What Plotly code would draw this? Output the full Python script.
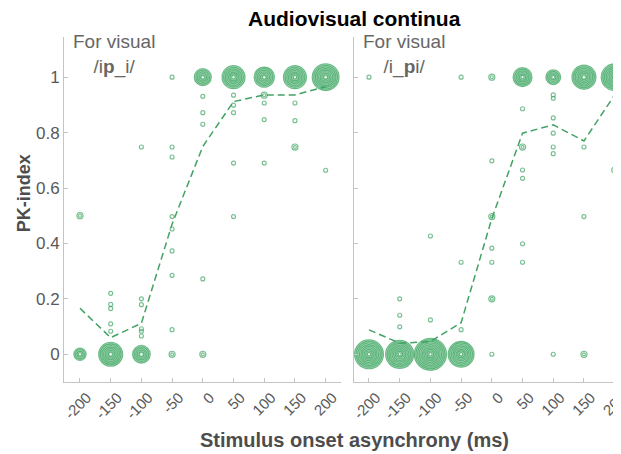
import plotly.graph_objects as go
import numpy as np

# ---------------- data ----------------
soa_ticks = [-200, -150, -100, -50, 0, 50, 100, 150, 200]
tick_labels = ["-200", "-150", "-100", "-50", "0", "50", "100", "150", "200"]

# Left panel: "For visual /ip_i/"  (x = SOA ms, y = PK-index, n = count)
left_x = [-200, -200,
          -150, -150, -150, -150, -150, -150,
          -100, -100, -100, -100, -100, -100, -100,
          -50, -50, -50, -50, -50, -50, -50, -50, -50,
          0, 0, 0, 0, 0, 0,
          50, 50, 50, 50, 50, 50,
          100, 100, 100, 100, 100,
          150, 150, 150, 150,
          200, 200]
left_y = [0.50, 0.0,
          0.22, 0.18, 0.165, 0.11, 0.083, 0.0,
          0.748, 0.20, 0.179, 0.092, 0.083, 0.066, 0.0,
          1.0, 0.748, 0.712, 0.497, 0.452, 0.373, 0.285, 0.089, 0.0,
          1.0, 0.931, 0.872, 0.830, 0.272, 0.0,
          1.0, 0.935, 0.899, 0.872, 0.690, 0.497,
          1.0, 0.935, 0.907, 0.847, 0.690,
          1.0, 0.907, 0.843, 0.748,
          1.0, 0.664]
left_n = [2, 7,
          1, 1, 1, 1, 1, 25,
          1, 1, 1, 1, 1, 1, 14,
          1, 1, 1, 1, 1, 1, 1, 1, 2,
          13, 1, 1, 1, 1, 2,
          23, 1, 1, 1, 1, 1,
          18, 2, 1, 1, 1,
          23, 1, 1, 2,
          31, 1]
left_mean = [0.166, 0.06, 0.112, 0.47, 0.75, 0.912, 0.936, 0.936, 0.966]

# Right panel: "For visual /i_pi/"
right_x = [-200, -200,
           -150, -150, -150, -150,
           -100, -100, -100,
           -50, -50, -50, -50,
           0, 0, 0, 0, 0, 0, 0,
           50, 50, 50, 50, 50, 50, 50,
           100, 100, 100, 100, 100, 100, 100, 100,
           150, 150, 150, 150,
           200, 200]
right_y = [1.0, 0.0,
           0.20, 0.141, 0.099, 0.0,
           0.427, 0.124, 0.0,
           1.0, 0.332, 0.089, 0.0,
           1.0, 0.698, 0.497, 0.383, 0.332, 0.20, 0.0,
           1.0, 0.886, 0.748, 0.665, 0.635, 0.399, 0.332,
           1.0, 0.936, 0.924, 0.853, 0.798, 0.748, 0.724, 0.0,
           1.0, 0.748, 0.497, 0.0,
           1.0, 0.665]
right_n = [1, 36,
           1, 1, 1, 34,
           1, 1, 44,
           1, 1, 1, 29,
           2, 1, 2, 1, 1, 2, 1,
           16, 1, 2, 1, 1, 1, 1,
           10, 1, 1, 1, 1, 1, 1, 1,
           25, 1, 1, 2,
           31, 2]
right_mean = [0.088, 0.04, 0.046, 0.114, 0.49, 0.798, 0.828, 0.77, 0.936]

# ---------------- style ----------------
RING = "rgb(62,164,98)"
FILL = "rgb(128,202,152)"
LINE = "rgb(66,162,100)"
AXIS = "#c4c4c4"
TXT = "#595959"
FONT = "Liberation Sans, Arial, Helvetica, sans-serif"

fig = go.Figure()


def add_panel(xs, ys, ns, mean, xa, ya):
    xs = np.array(xs, float)
    ys = np.array(ys, float)
    d = 5.0 * np.sqrt(np.array(ns, float))  # outer diameter in px
    big = d >= 9
    fig.add_trace(go.Scatter(x=xs[big], y=ys[big], mode="markers", xaxis=xa, yaxis=ya,
                             marker=dict(size=d[big] - 1, color=FILL, line=dict(width=0)),
                             cliponaxis=False, hoverinfo="skip", showlegend=False))
    k = 0
    while True:
        dk = d - 3.2 * k
        m = dk >= 3
        if not m.any():
            break
        fig.add_trace(go.Scatter(x=xs[m], y=ys[m], mode="markers", xaxis=xa, yaxis=ya,
                                 marker=dict(symbol="circle-open", size=dk[m] - 1,
                                             color=RING, line=dict(width=1.15, color=RING)),
                                 cliponaxis=False, hoverinfo="skip", showlegend=False))
        k += 1
    fig.add_trace(go.Scatter(x=xs[big], y=ys[big], mode="markers", xaxis=xa, yaxis=ya,
                             marker=dict(size=2, color="white", line=dict(width=0)),
                             cliponaxis=False, hoverinfo="skip", showlegend=False))
    fig.add_trace(go.Scatter(x=soa_ticks, y=mean, mode="lines", xaxis=xa, yaxis=ya,
                             line=dict(color=LINE, width=1.5, dash="7px,4px"),
                             hoverinfo="skip", showlegend=False))


add_panel(left_x, left_y, left_n, left_mean, "x", "y")
add_panel(right_x, right_y, right_n, right_mean, "x2", "y2")

# page body adds an 8px margin; work in window pixels and convert
OFF = 8
W, H = 621 - OFF, 454 - OFF
L = 64 - OFF
T = 37 - OFF
BOT = 381.7 - OFF
B = H - BOT
pw = W - L
ph = BOT - T


def pxp(px):
    return (px - OFF - L) / pw


def pyp(py):
    return (BOT - (py - OFF)) / ph


xcommon = dict(tickmode="array", tickvals=soa_ticks, ticktext=tick_labels, tickangle=-45,
               ticks="inside", ticklen=4, tickcolor=AXIS, showline=True, linecolor=AXIS,
               linewidth=1, showgrid=False, zeroline=False, ticklabelshift=7,
               automargin=False,
               tickfont=dict(family=FONT, size=15, color=TXT))
ycommon = dict(range=[-0.1, 1.145], tickvals=[0, 0.2, 0.4, 0.6, 0.8, 1],
               ticks="inside", ticklen=4, tickcolor=AXIS, showline=True, linecolor=AXIS,
               linewidth=1, showgrid=False, zeroline=False, automargin=False,
               tickfont=dict(family=FONT, size=17, color=TXT))

ann_font = dict(size=19, color="#666666", family=FONT)
fig.update_layout(
    width=W, height=H, autosize=False,
    margin=dict(l=L, r=0, t=T, b=B, pad=0),
    paper_bgcolor="white", plot_bgcolor="white",
    xaxis=dict(domain=[0, pxp(341)], range=[-226, 225], ticklabeloverflow="allow", **xcommon),
    xaxis2=dict(domain=[pxp(354), 1], range=[-224.4, 210.3], anchor="y2",
                ticklabeloverflow="allow", **xcommon),
    yaxis=dict(anchor="x", **ycommon),
    yaxis2=dict(anchor="x2", showticklabels=False, **ycommon),
    font=dict(family=FONT),
    annotations=[
        dict(text="<b>Audiovisual continua</b>", xref="paper", yref="paper",
             x=pxp(354), y=pyp(19), showarrow=False,
             font=dict(size=21, color="black", family=FONT), xanchor="center", yanchor="middle"),
        dict(text="<b>Stimulus onset asynchrony (ms)</b>", xref="paper", yref="paper",
             x=pxp(354), y=pyp(440), showarrow=False,
             font=dict(size=20, color="#4d4d4d", family=FONT), xanchor="center", yanchor="middle"),
        dict(text="<b>PK-index</b>", xref="paper", yref="paper",
             x=pxp(24), y=pyp(193), showarrow=False, textangle=-90,
             font=dict(size=18, color="#4d4d4d", family=FONT), xanchor="center", yanchor="middle"),
        dict(text="For visual<br>/i<b>p</b>_i/", xref="paper", yref="paper", x=pxp(114),
             y=pyp(54), showarrow=False, font=ann_font, align="center",
             xanchor="center", yanchor="middle"),
        dict(text="For visual<br>/i_<b>p</b>i/", xref="paper", yref="paper", x=pxp(404),
             y=pyp(54), showarrow=False, font=ann_font, align="center",
             xanchor="center", yanchor="middle"),
    ],
)

fig.write_html("out.html")
